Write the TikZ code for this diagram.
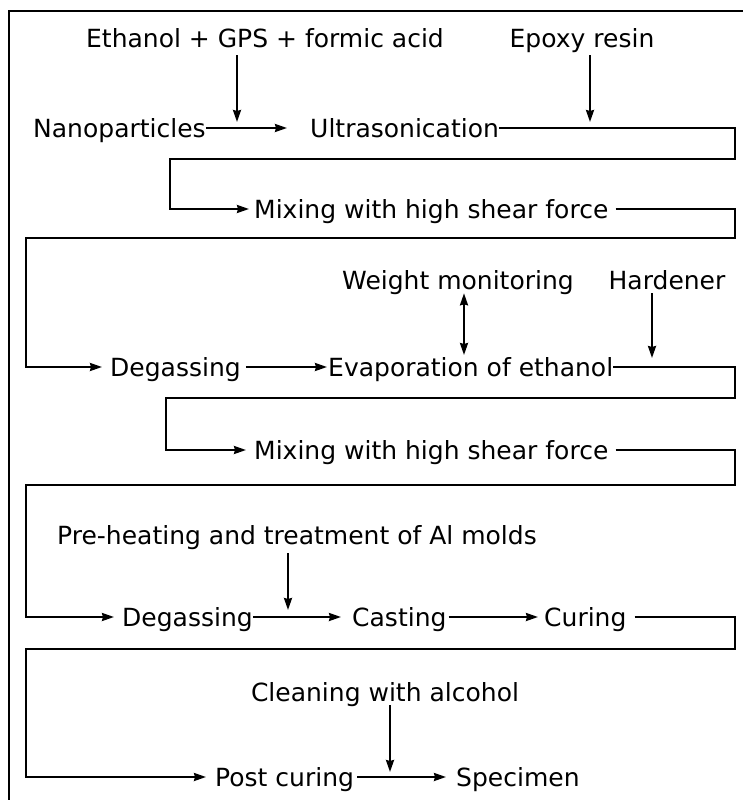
\documentclass[tikz,border=0pt]{standalone}
\usepackage{fontspec}
\setmainfont{DejaVu Sans}
\usetikzlibrary{arrows.meta}
\begin{document}
\begin{tikzpicture}[x=1pt,y=1pt,
  lbl/.style={inner sep=0pt, text height=18.2pt, text depth=0pt,
    font=\fontsize{25}{30}\selectfont},
  lw/.style={anchor=west},
  conn/.style={line width=2.1pt, line join=miter},
  arr/.style={conn, -{Stealth[length=12pt,width=8pt,inset=1pt]}},
  darr/.style={conn, {Stealth[length=12pt,width=8pt,inset=1pt]}-{Stealth[length=12pt,width=8pt,inset=1pt]}}]
\useasboundingbox (0,0) rectangle (743,-800);
% frame
\draw[line width=2.2pt] (9,-800) -- (9,-11) -- (743,-11);
% nodes
\node[lbl] (eth) at (265,-38) {Ethanol + GPS + formic acid};
\node[lbl] (epoxy) at (582,-38) {Epoxy resin};
\node[lbl,lw] (nano) at (33,-128) {Nanoparticles};
\node[lbl,lw] (ultra) at (310,-128) {Ultrasonication};
\node[lbl,lw] (mix1) at (254,-209) {Mixing with high shear force};
\node[lbl] (weight) at (458,-280) {Weight monitoring};
\node[lbl] (hard) at (667,-280) {Hardener};
\node[lbl,lw] (deg1) at (110,-367) {Degassing};
\node[lbl,lw] (evap) at (328,-367) {Evaporation of ethanol};
\node[lbl,lw] (mix2) at (254,-450) {Mixing with high shear force};
\node[lbl,lw] (pre) at (57,-535) {Pre-heating and treatment of Al molds};
\node[lbl,lw] (deg2) at (122,-617) {Degassing};
\node[lbl,lw] (cast) at (352,-617) {Casting};
\node[lbl,lw] (cur) at (544,-617) {Curing};
\node[lbl] (clean) at (385,-692) {Cleaning with alcohol};
\node[lbl,lw] (post) at (215,-777) {Post curing};
\node[lbl,lw] (spec) at (456,-777) {Specimen};
% free-end coordinates
\coordinate (ea) at (237,-122);
\coordinate (pa) at (590,-122);
\coordinate (wa) at (464,-355);
\coordinate (ha) at (652,-358);
\coordinate (pra) at (288,-610);
\coordinate (ca) at (390,-772);
% vertical feed arrows
\draw[arr, shorten <=8pt] (eth.south -| ea) -- (ea);
\draw[arr, shorten <=8pt] (epoxy.south -| pa) -- (pa);
\draw[darr, shorten <=4pt] (weight.south -| wa) -- (wa);
\draw[arr, shorten <=4pt] (hard.south -| ha) -- (ha);
\draw[arr, shorten <=9pt] (pre.south -| pra) -- (pra);
\draw[arr, shorten <=4pt] (clean.south -| ca) -- (ca);
% main flow
\draw[arr] (nano.east) -- ([xshift=-23pt]ultra.west);
\draw[arr] (ultra.east) -- (735,-128) -- (735,-159) -- (170,-159) |- ([xshift=-5pt]mix1.west);
\draw[arr] ([xshift=7pt]mix1.east) -- (735,-209) -- (735,-238) -- (26,-238) |- ([xshift=-8pt]deg1.west);
\draw[arr] ([xshift=5pt]deg1.east) -- ([xshift=-1pt]evap.west);
\draw[arr] (evap.east) -- (735,-367) -- (735,-398) -- (166,-398) |- ([xshift=-8pt]mix2.west);
\draw[arr] ([xshift=7pt]mix2.east) -- (735,-450) -- (735,-485) -- (26,-485) |- ([xshift=-8pt]deg2.west);
\draw[arr] (deg2.east) -- ([xshift=-11pt]cast.west);
\draw[arr] ([xshift=2pt]cast.east) -- ([xshift=-6pt]cur.west);
\draw[arr] ([xshift=8pt]cur.east) -- (735,-617) -- (735,-649) -- (26,-649) |- ([xshift=-9pt]post.west);
\draw[arr] ([xshift=3pt]post.east) -- ([xshift=-10pt]spec.west);
\end{tikzpicture}
\end{document}
